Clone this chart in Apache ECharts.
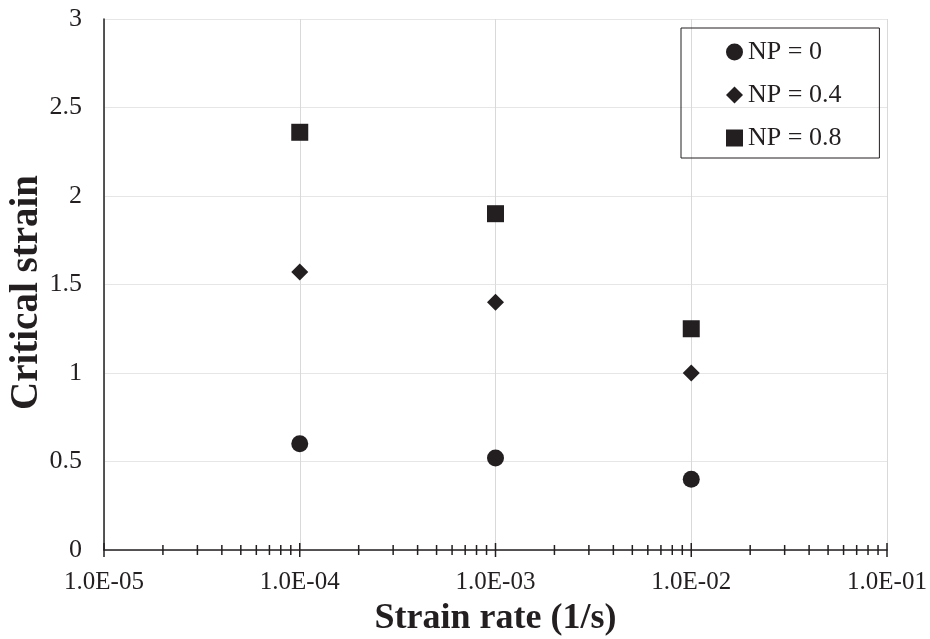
<!DOCTYPE html>
<html>
<head>
<meta charset="utf-8">
<script src="https://cdn.jsdelivr.net/npm/echarts@6/dist/echarts.min.js"></script>
<style>
  html, body { margin: 0; padding: 0; background: #fff; }
  #chart { width: 930px; height: 639px; }
</style>
</head>
<body>
<div id="chart"></div>
<script>
// strain rate (1/s)
var strainRates = [1e-4, 1e-3, 1e-2];
// critical strain per NP level
var np0 = [0.60, 0.52, 0.40];
var np04 = [1.57, 1.40, 1.00];
var np08 = [2.36, 1.90, 1.25];
var seriesNames = ['NP = 0', 'NP = 0.4', 'NP = 0.8'];

// x axis ticks (log decades and minor steps)
var decades = [1e-5, 1e-4, 1e-3, 1e-2, 1e-1];
var minorSteps = [2, 3, 4, 5, 6, 7, 8, 9];

var ink = '#231f20';
var serif = '"Liberation Serif", "DejaVu Serif", serif';

function pairs(xs, ys) {
  return xs.map(function (x, i) { return [x, ys[i]]; });
}

function sciLabel(v) {
  var e = Math.round(Math.log10(v));
  var m = v / Math.pow(10, e);
  var s = Math.abs(e) < 10 ? '0' + Math.abs(e) : '' + Math.abs(e);
  return m.toFixed(1) + 'E' + (e < 0 ? '-' : '+') + s;
}

var tickData = [];
decades.forEach(function (d, i) {
  tickData.push([d, 7]);
  if (i < decades.length - 1) {
    minorSteps.forEach(function (k) { tickData.push([d * k, 5]); });
  }
});

var chart = echarts.init(document.getElementById('chart'));

var option = {
  animation: false,
  backgroundColor: '#fff',
  grid: { left: 104, right: 43, top: 19, bottom: 89, outerBoundsMode: 'none', containLabel: false },
  legend: {
    orient: 'vertical',
    left: 681,
    top: 28,
    padding: [11, 38, 7, 45],
    itemGap: 17,
    itemWidth: 17,
    itemHeight: 17,
    borderColor: ink,
    borderWidth: 1,
    textStyle: { fontFamily: serif, fontSize: 26, color: ink },
    data: [
      { name: seriesNames[0], icon: 'circle', itemStyle: { color: ink, opacity: 1 } },
      { name: seriesNames[1], icon: 'diamond', itemStyle: { color: ink, opacity: 1 } },
      { name: seriesNames[2], icon: 'rect', itemStyle: { color: ink, opacity: 1 } }
    ]
  },
  xAxis: {
    type: 'log',
    logBase: 10,
    min: 1e-5,
    max: 1e-1,
    name: 'Strain rate (1/s)',
    nameLocation: 'middle',
    nameGap: 51,
    nameTextStyle: { fontFamily: serif, fontSize: 36, fontWeight: 'bold', color: ink },
    axisLine: { lineStyle: { color: ink, width: 1.5 } },
    axisTick: { show: false },
    axisLabel: {
      fontFamily: serif, fontSize: 25, color: ink, margin: 20,
      formatter: sciLabel
    },
    splitLine: { show: true, lineStyle: { color: '#d9d9d9', width: 1 } }
  },
  yAxis: {
    type: 'value',
    min: 0,
    max: 3,
    interval: 0.5,
    name: 'Critical strain',
    nameLocation: 'middle',
    nameGap: 58,
    nameMoveOverlap: false,
    nameTextStyle: {
      fontFamily: serif, fontSize: 39, fontWeight: 'bold', color: ink,
      padding: [0, 16, 0, 0]
    },
    axisLine: { show: true, lineStyle: { color: ink, width: 1.5 } },
    axisTick: { show: false },
    axisLabel: { fontFamily: serif, fontSize: 26, color: ink, margin: 22 },
    splitLine: { show: true, lineStyle: { color: '#e6e6e6', width: 1 } }
  },
  series: [
    {
      name: seriesNames[0], type: 'scatter', symbol: 'circle', symbolSize: 17,
      itemStyle: { color: ink, opacity: 1 }, data: pairs(strainRates, np0), z: 5
    },
    {
      name: seriesNames[1], type: 'scatter', symbol: 'diamond', symbolSize: 17,
      itemStyle: { color: ink, opacity: 1 }, data: pairs(strainRates, np04), z: 5
    },
    {
      name: seriesNames[2], type: 'scatter', symbol: 'rect', symbolSize: 17,
      itemStyle: { color: ink, opacity: 1 }, data: pairs(strainRates, np08), z: 5
    },
    {
      // crossing tick marks on the log axis
      type: 'custom',
      clip: false,
      silent: true,
      z: 6,
      data: tickData,
      renderItem: function (params, api) {
        var p = api.coord([api.value(0), 0]);
        var h = api.value(1);
        return {
          type: 'line',
          shape: { x1: p[0], y1: p[1] - h, x2: p[0], y2: p[1] + h },
          style: { stroke: ink, lineWidth: 1.5 }
        };
      }
    }
  ]
};

chart.setOption(option);
</script>
</body>
</html>
